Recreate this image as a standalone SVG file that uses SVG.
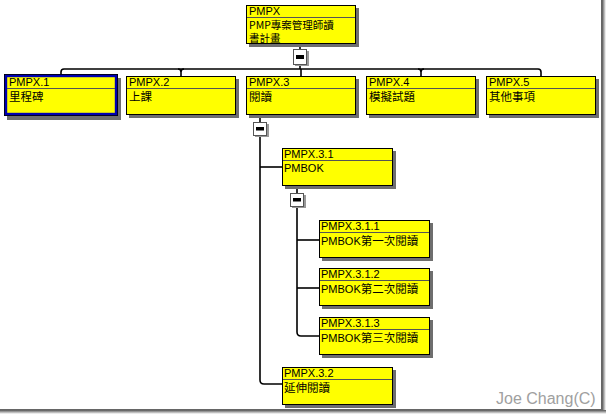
<svg xmlns="http://www.w3.org/2000/svg" width="606" height="414" viewBox="0 0 606 414">
<defs>
<linearGradient id="shR" x1="0" y1="0" x2="1" y2="0"><stop offset="0" stop-color="#555"/><stop offset="1" stop-color="#fff"/></linearGradient>
<linearGradient id="shB" x1="0" y1="0" x2="0" y2="1"><stop offset="0" stop-color="#555"/><stop offset="1" stop-color="#fff"/></linearGradient>
</defs>
<style>
.box{fill:#ffff00;stroke:#000;stroke-width:1}
.sh{fill:#6e6e6e}
.hd{stroke:#555;stroke-width:1}
.t{font-family:"Liberation Sans","Noto Sans CJK TC",sans-serif;font-size:11px;fill:#000}
.c{font-family:"Noto Sans CJK TC","Liberation Sans",sans-serif;font-size:11.5px;fill:#000}
.ln{fill:none;stroke:#000;stroke-width:1.6}
.btn{fill:#fff;stroke:#555;stroke-width:1}
.bsh{fill:#999}
.mn{fill:#000}
</style>
<rect width="606" height="414" fill="#fff"/>
<rect x="602" y="0" width="4" height="414" fill="url(#shR)"/>
<rect x="0" y="410" width="606" height="4" fill="url(#shB)"/>
<line x1="601.5" y1="0" x2="601.5" y2="410" stroke="#666" stroke-width="1"/>
<line x1="0" y1="409.5" x2="602" y2="409.5" stroke="#666" stroke-width="1"/>

<g id="connectors">
<line class="ln" x1="300" y1="44" x2="300" y2="49"/>
<line class="ln" x1="300" y1="65" x2="300" y2="69"/>
<path class="ln" d="M61 76 V72 Q61 69 64 69 H538 Q541 69 541 72 V76"/>
<path class="ln" d="M181 76 V72 Q181 69 184 69 M178 69 Q181 69 181 72"/>
<path class="ln" d="M301 69 V76"/>
<path class="ln" d="M421 76 V72 Q421 69 424 69 M418 69 Q421 69 421 72"/>
<line class="ln" x1="260" y1="115" x2="260" y2="122"/>
<path class="ln" d="M260 136 V380 Q260 384 264 384 H283"/>
<line class="ln" x1="260" y1="167" x2="283" y2="167"/>
<line class="ln" x1="297" y1="186" x2="297" y2="193"/>
<path class="ln" d="M297 207 V332 Q297 336 301 336 H319"/>
<line class="ln" x1="297" y1="240" x2="319" y2="240"/>
<line class="ln" x1="297" y1="288" x2="319" y2="288"/>
</g>

<g id="btn-root"><rect class="bsh" x="295" y="51" width="14" height="15"/><rect class="btn" x="293.5" y="49.5" width="13" height="15"/><rect class="mn" x="296" y="55" width="8" height="4"/></g>
<g id="btn-3"><rect class="bsh" x="255" y="124" width="14" height="13"/><rect class="btn" x="253.5" y="122.5" width="13" height="13"/><rect class="mn" x="256" y="127" width="8" height="3.5"/></g>
<g id="btn-31"><rect class="bsh" x="292" y="195" width="14" height="13"/><rect class="btn" x="290.5" y="193.5" width="13" height="13"/><rect class="mn" x="293" y="198" width="8" height="3.5"/></g>

<g id="PMPX">
<rect class="sh" x="249" y="8" width="110" height="39"/>
<rect class="box" x="246.5" y="5.5" width="109" height="38"/>
<line class="hd" x1="247" y1="17.5" x2="355" y2="17.5"/>
<text class="t" x="249" y="14.5">PMPX</text>
<text class="c" x="249" y="28.5" font-size="10.5px" style="font-size:10.5px">PMP專案管理師讀</text>
<text class="c" x="249" y="41.5" style="font-size:10.5px">書計畫</text>
</g>

<g id="PMPX.1">
<rect class="sh" x="7" y="78" width="114" height="42"/>
<rect x="4.5" y="74.5" width="113" height="41" fill="#ffff00" stroke="#000"/>
<rect x="6" y="76" width="110" height="38" fill="none" stroke="#0000b0" stroke-width="2.4"/>
<line class="hd" x1="7" y1="88.5" x2="115" y2="88.5"/>
<text class="t" x="9" y="86">PMPX.1</text>
<text class="c" x="9" y="101">里程碑</text>
</g>

<g id="PMPX.2">
<rect class="sh" x="129" y="79" width="110" height="39"/>
<rect class="box" x="126.5" y="76.5" width="109" height="38"/>
<line class="hd" x1="127" y1="88.5" x2="235" y2="88.5"/>
<text class="t" x="129" y="86">PMPX.2</text>
<text class="c" x="129" y="101">上課</text>
</g>

<g id="PMPX.3">
<rect class="sh" x="249" y="79" width="110" height="39"/>
<rect class="box" x="246.5" y="76.5" width="109" height="38"/>
<line class="hd" x1="247" y1="88.5" x2="355" y2="88.5"/>
<text class="t" x="249" y="86">PMPX.3</text>
<text class="c" x="249" y="101">閱讀</text>
</g>

<g id="PMPX.4">
<rect class="sh" x="369" y="79" width="110" height="39"/>
<rect class="box" x="366.5" y="76.5" width="109" height="38"/>
<line class="hd" x1="367" y1="88.5" x2="475" y2="88.5"/>
<text class="t" x="369" y="86">PMPX.4</text>
<text class="c" x="369" y="101">模擬試題</text>
</g>

<g id="PMPX.5">
<rect class="sh" x="489" y="79" width="110" height="39"/>
<rect class="box" x="486.5" y="76.5" width="109" height="38"/>
<line class="hd" x1="487" y1="88.5" x2="595" y2="88.5"/>
<text class="t" x="489" y="86">PMPX.5</text>
<text class="c" x="489" y="101">其他事項</text>
</g>

<g id="PMPX.3.1">
<rect class="sh" x="285" y="151" width="111" height="38"/>
<rect class="box" x="282.5" y="148.5" width="110" height="37"/>
<line class="hd" x1="283" y1="160.5" x2="392" y2="160.5"/>
<text class="t" x="284" y="158">PMPX.3.1</text>
<text class="t" x="284" y="172">PMBOK</text>
</g>

<g id="PMPX.3.1.1">
<rect class="sh" x="322" y="223" width="111" height="38"/>
<rect class="box" x="319.5" y="220.5" width="110" height="37"/>
<line class="hd" x1="320" y1="232.5" x2="429" y2="232.5"/>
<text class="t" x="321" y="230">PMPX.3.1.1</text>
<text class="c" x="321" y="245"><tspan class="t" font-size="11px">PMBOK</tspan>第一次閱讀</text>
</g>

<g id="PMPX.3.1.2">
<rect class="sh" x="322" y="271" width="111" height="38"/>
<rect class="box" x="319.5" y="268.5" width="110" height="37"/>
<line class="hd" x1="320" y1="280.5" x2="429" y2="280.5"/>
<text class="t" x="321" y="278">PMPX.3.1.2</text>
<text class="c" x="321" y="293"><tspan class="t" font-size="11px">PMBOK</tspan>第二次閱讀</text>
</g>

<g id="PMPX.3.1.3">
<rect class="sh" x="322" y="320" width="111" height="38"/>
<rect class="box" x="319.5" y="317.5" width="110" height="37"/>
<line class="hd" x1="320" y1="329.5" x2="429" y2="329.5"/>
<text class="t" x="321" y="327">PMPX.3.1.3</text>
<text class="c" x="321" y="342"><tspan class="t" font-size="11px">PMBOK</tspan>第三次閱讀</text>
</g>

<g id="PMPX.3.2">
<rect class="sh" x="285" y="370" width="111" height="38"/>
<rect class="box" x="282.5" y="367.5" width="110" height="37"/>
<line class="hd" x1="283" y1="379.5" x2="392" y2="379.5"/>
<text class="t" x="284" y="377">PMPX.3.2</text>
<text class="c" x="284" y="392">延伸閱讀</text>
</g>

<text x="496" y="404" font-family="Liberation Sans, sans-serif" font-size="16px" fill="#a0a0a0">Joe Chang(C)</text>
</svg>
